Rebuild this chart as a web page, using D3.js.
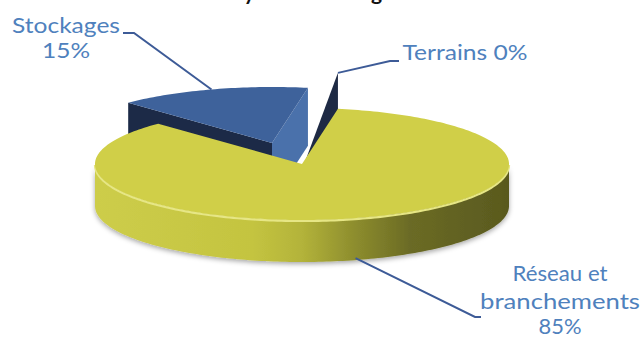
<!DOCTYPE html>
<html><head><meta charset="utf-8">
<script src="https://cdn.jsdelivr.net/npm/d3@7"></script>
<style>body{margin:0;background:#fff}svg{display:block}</style>
</head><body>
<script>
// ---- data ----
const categories = ["Réseau et branchements", "Stockages", "Terrains"];
const values = [85, 15, 0];
const percentLabels = ["85%", "15%", "0%"];
const titleText = "Analyse des ouvrages";

// ---- layout / style ----
const W = 641, H = 338;
const cx = 302, cy = 164, rx = 207, ry = 56;
const depths = [42, 58, 42];
const startDeg = 10;
const explode = [[0, 0], [-30, -21], [0, -36]];
const styles = [
  {top: "#d0cf48", faceA: "#1d2b48", faceB: "#4a70aa"},
  {top: "#3e629b", faceA: "#1c2a47", faceB: "#4a71ab"},
  {top: "#23324f", faceA: "#1e2a44", faceB: "#1e2a44"}
];
const labelLayout = [
  {lines: ["Réseau et", "branchements", "%"], x: 560, ys: [281, 309, 334], widths: [95, 160, 43],
   anchor: "sideBottom", angle: 165, elbow: [[475, 317], [481, 317]]},
  {lines: ["Stockages", "%"], x: 66, ys: [33, 58], widths: [108, 48],
   anchor: "topRim", angle: "mid", elbow: [[134, 33], [123, 33]]},
  {lines: ["Terrains %"], x: 465, ys: [60], widths: [125],
   anchor: "topRim", angle: "end", elbow: [[390, 61], [399, 61]]}
];
const textColor = "#4f81bd", leaderColor = "#3d5b97";

const svg = d3.select("body").append("svg").attr("width", W).attr("height", H)
  .style("font-family", "Lato, 'Liberation Sans', sans-serif");

const defs = svg.append("defs");
const grad = defs.append("linearGradient").attr("id", "sideGrad")
  .attr("gradientUnits", "userSpaceOnUse").attr("x1", cx - rx).attr("x2", cx + rx).attr("y1", 0).attr("y2", 0);
[[0, "#cdcd4a"], [0.38, "#c4c440"], [0.5, "#b3b33a"], [0.62, "#8f8f2e"], [0.76, "#6b6b25"], [1, "#59591e"]]
  .forEach(([o, c]) => grad.append("stop").attr("offset", o).attr("stop-color", c));
const sh = defs.append("filter").attr("id", "shadow").attr("x", "-10%").attr("y", "-10%").attr("width", "120%").attr("height", "140%");
sh.append("feDropShadow").attr("dx", 0).attr("dy", 2).attr("stdDeviation", 2.5).attr("flood-color", "#000").attr("flood-opacity", 0.35);

// title (mostly clipped above the frame)
svg.append("text").attr("x", cx).attr("y", 0).attr("text-anchor", "middle")
  .attr("font-weight", "bold").attr("font-size", 21).attr("fill", "#111").text(titleText);

// ---- pie geometry ----
const pie = d3.pie().sort(null).value(d => d)
  .startAngle(startDeg * Math.PI / 180).endAngle(startDeg * Math.PI / 180 + 2 * Math.PI);
const arcs = pie(values);

const P = (a, h, off) => [cx + off[0] + rx * Math.sin(a), cy + off[1] - ry * Math.cos(a) + h];
const C = (h, off) => [cx + off[0], cy + off[1] + h];
const samples = (a0, a1) => { const n = Math.max(2, Math.ceil(Math.abs(a1 - a0) / 0.02)); return d3.range(n + 1).map(i => a0 + (a1 - a0) * i / n); };
const line = d3.line();

function frontRanges(a0, a1) {
  const out = [];
  for (let k = -1; k <= 2; k++) {
    const lo = Math.PI / 2 + 2 * Math.PI * k, hi = 3 * Math.PI / 2 + 2 * Math.PI * k;
    const s = Math.max(a0, lo), e = Math.min(a1, hi);
    if (e > s) out.push([s, e]);
  }
  return out;
}

const order = [1, 2, 0]; // back to front
order.forEach(i => {
  const d = arcs[i], off = explode[i], st = styles[i], depth = depths[i];
  const g = svg.append("g");
  const a0 = d.startAngle, a1 = d.endAngle;
  if (Math.sin(a0) < 0 && a1 > a0) {
    g.append("path").attr("fill", st.faceA)
      .attr("d", line([C(0, off), P(a0, 0, off), P(a0, depth, off), C(depth, off)]) + "Z");
  }
  if (Math.sin(a1) > 0) {
    const pts = a1 > a0
      ? [C(0, off), P(a1, 0, off), P(a1, depth, off), C(depth, off)]
      : [P(a1, 0, off), P(a1, depth, off), C(depth, off)]; // zero-width slice: edge-on wall
    g.append("path").attr("fill", a1 > a0 ? st.faceB : st.faceA).attr("d", line(pts) + "Z");
  }
  frontRanges(a0, a1).forEach(([s, e]) => {
    const topPts = samples(s, e).map(a => P(a, 0, off));
    const botPts = samples(e, s).map(a => P(a, depth, off));
    g.append("path").attr("fill", "url(#sideGrad)").attr("filter", "url(#shadow)")
      .attr("d", line(topPts.concat(botPts)) + "Z");
    g.append("path").attr("fill", "none").attr("stroke", "#e6e685").attr("stroke-width", 2.2)
      .attr("d", line(samples(s, e).map(a => P(a, 1, off))));
  });
  if (a1 > a0) {
    g.append("path").attr("fill", st.top)
      .attr("d", line([C(0, off)].concat(samples(a0, a1).map(a => P(a, 0, off)))) + "Z");
  }
});

// ---- labels ----
labelLayout.forEach((L, i) => {
  const d = arcs[i], off = explode[i];
  const a = L.angle === "mid" ? (d.startAngle + d.endAngle) / 2
          : L.angle === "end" ? d.endAngle : L.angle * Math.PI / 180;
  const p0 = L.anchor === "sideBottom" ? P(a, depths[i] - 2, off) : P(a, 0, off);
  svg.append("path").attr("fill", "none").attr("stroke", leaderColor).attr("stroke-width", 2)
    .attr("d", line([p0].concat(L.elbow)));
  const words = L.lines.map(s => s === "%" ? percentLabels[i] : s.replace("%", percentLabels[i]));
  words.forEach((t, j) => {
    svg.append("text").attr("x", L.x).attr("y", L.ys[j]).attr("text-anchor", "middle")
      .attr("font-size", 22).attr("fill", textColor)
      .attr("textLength", L.widths[j]).attr("lengthAdjust", "spacingAndGlyphs").text(t);
  });
});
</script>
</body></html>
